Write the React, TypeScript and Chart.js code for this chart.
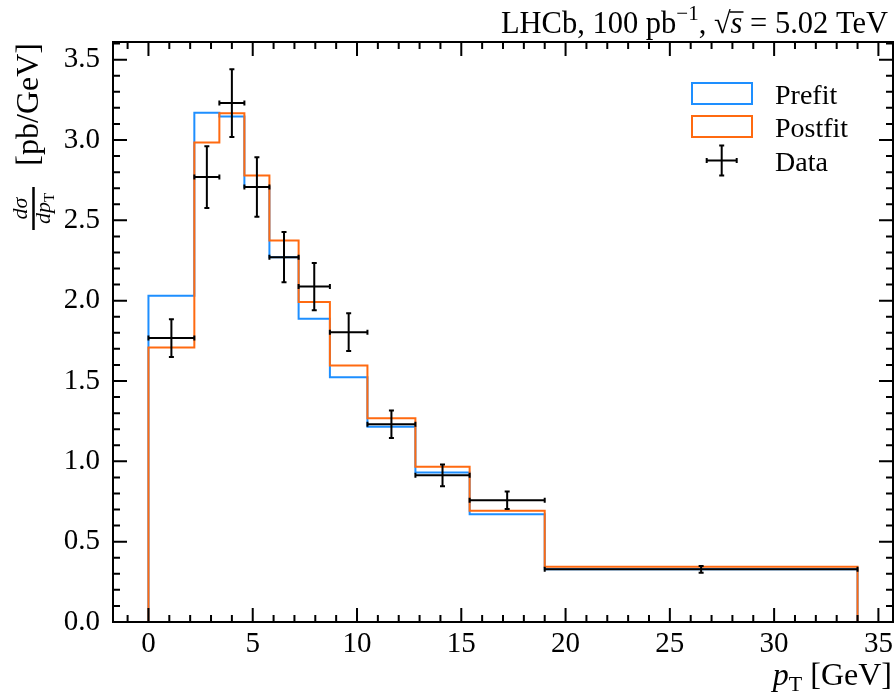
import React, { useEffect, useRef } from "react";
import { Chart, registerables } from "chart.js";

Chart.register(...registerables);

// ---- data ----
const binEdges = [0, 2.2, 3.4, 4.6, 5.8, 7.2, 8.7, 10.5, 12.8, 15.4, 19.0, 34.0];
const prefitValues = [2.03, 3.17, 3.146, 2.707, 2.271, 1.887, 1.524, 1.216, 0.93, 0.67, 0.328];
const postfitValues = [1.708, 2.985, 3.167, 2.779, 2.374, 1.991, 1.596, 1.268, 0.967, 0.693, 0.344];
const dataValues = [1.767, 2.769, 3.23, 2.707, 2.271, 2.088, 1.804, 1.231, 0.913, 0.758, 0.328];
const dataErrors = [0.117, 0.192, 0.211, 0.185, 0.157, 0.147, 0.118, 0.085, 0.068, 0.055, 0.021];
const xTickValues = [0, 5, 10, 15, 20, 25, 30, 35];
const yTickValues = [0, 0.5, 1.0, 1.5, 2.0, 2.5, 3.0, 3.5];
const legendLabels = ["Prefit", "Postfit", "Data"];

const PREFIT_COLOR = "#1e8fff";
const POSTFIT_COLOR = "#ff6a10";
const F = "'Liberation Serif', 'Times New Roman', serif";

function histPoints(vals: number[]) {
  const pts: { x: number; y: number }[] = [{ x: binEdges[0], y: 0 }];
  vals.forEach((v, i) => {
    pts.push({ x: binEdges[i], y: v });
    pts.push({ x: binEdges[i + 1], y: v });
  });
  pts.push({ x: binEdges[binEdges.length - 1], y: 0 });
  return pts;
}

function measurePieces(ctx: CanvasRenderingContext2D, pieces: { t: string; font: string }[]) {
  return pieces.map((p) => {
    ctx.font = p.font;
    return ctx.measureText(p.t).width;
  });
}

function drawPieces(
  ctx: CanvasRenderingContext2D,
  pieces: { t: string; font: string; dy?: number }[],
  endX: number,
  baseline: number
) {
  const widths = measurePieces(ctx, pieces);
  const total = widths.reduce((a, b) => a + b, 0);
  let x = endX - total;
  ctx.textAlign = "left";
  ctx.textBaseline = "alphabetic";
  const starts: number[] = [];
  pieces.forEach((p, i) => {
    ctx.font = p.font;
    starts.push(x);
    ctx.fillText(p.t, x, baseline + (p.dy || 0));
    x += widths[i];
  });
  return { starts, widths };
}

const decorPlugin = {
  id: "decor",
  afterDatasetsDraw(chart: any) {
    const ctx: CanvasRenderingContext2D = chart.ctx;
    const xs = chart.scales.x;
    const ys = chart.scales.y;
    ctx.save();
    ctx.strokeStyle = "#000";
    ctx.lineWidth = 2;
    ctx.lineCap = "butt";
    const cap = 2.5;
    dataValues.forEach((v, i) => {
      const lo = xs.getPixelForValue(binEdges[i]);
      const hi = xs.getPixelForValue(binEdges[i + 1]);
      const cx = xs.getPixelForValue((binEdges[i] + binEdges[i + 1]) / 2);
      const py = ys.getPixelForValue(v);
      const top = ys.getPixelForValue(v + dataErrors[i]);
      const bot = ys.getPixelForValue(v - dataErrors[i]);
      ctx.beginPath();
      ctx.moveTo(lo, py);
      ctx.lineTo(hi, py);
      ctx.moveTo(cx, top);
      ctx.lineTo(cx, bot);
      ctx.moveTo(cx - cap, top);
      ctx.lineTo(cx + cap, top);
      ctx.moveTo(cx - cap, bot);
      ctx.lineTo(cx + cap, bot);
      ctx.moveTo(lo, py - cap);
      ctx.lineTo(lo, py + cap);
      ctx.moveTo(hi, py - cap);
      ctx.lineTo(hi, py + cap);
      ctx.stroke();
    });
    ctx.restore();
  },
  afterDraw(chart: any) {
    const ctx: CanvasRenderingContext2D = chart.ctx;
    const xs = chart.scales.x;
    const ys = chart.scales.y;
    const { left, right, top, bottom } = chart.chartArea;
    ctx.save();
    ctx.strokeStyle = "#000";
    ctx.fillStyle = "#000";
    // frame
    ctx.lineWidth = 2;
    ctx.strokeRect(left, top, right - left, bottom - top);
    // ticks (inward, all four sides)
    ctx.beginPath();
    const maj = 14, mnr = 7;
    for (let k = -1; k <= 35; k++) {
      const px = xs.getPixelForValue(k);
      if (px < left + 1 || px > right - 1) continue;
      const len = k % 5 === 0 ? maj : mnr;
      ctx.moveTo(px, bottom);
      ctx.lineTo(px, bottom - len);
      ctx.moveTo(px, top);
      ctx.lineTo(px, top + len);
    }
    for (let k = 0; k <= 36; k++) {
      const py = ys.getPixelForValue(k / 10);
      if (py < top + 1 || py > bottom - 1) continue;
      const len = k % 5 === 0 ? maj : mnr;
      ctx.moveTo(left, py);
      ctx.lineTo(left + len, py);
      ctx.moveTo(right, py);
      ctx.lineTo(right - len, py);
    }
    ctx.stroke();

    // legend
    ctx.lineWidth = 2;
    ctx.strokeStyle = PREFIT_COLOR;
    ctx.strokeRect(692, 83, 60, 21);
    ctx.strokeStyle = POSTFIT_COLOR;
    ctx.strokeRect(692, 116, 60, 21);
    ctx.strokeStyle = "#000";
    ctx.beginPath();
    const lx = 721.7, ly = 160.5;
    ctx.moveTo(lx - 15, ly);
    ctx.lineTo(lx + 15, ly);
    ctx.moveTo(lx, ly - 15);
    ctx.lineTo(lx, ly + 15);
    ctx.moveTo(lx - 2.5, ly - 15);
    ctx.lineTo(lx + 2.5, ly - 15);
    ctx.moveTo(lx - 2.5, ly + 15);
    ctx.lineTo(lx + 2.5, ly + 15);
    ctx.moveTo(lx - 15, ly - 2.5);
    ctx.lineTo(lx - 15, ly + 2.5);
    ctx.moveTo(lx + 15, ly - 2.5);
    ctx.lineTo(lx + 15, ly + 2.5);
    ctx.stroke();
    ctx.font = `28px ${F}`;
    ctx.textAlign = "left";
    ctx.textBaseline = "alphabetic";
    ctx.fillText(legendLabels[0], 775, 104);
    ctx.fillText(legendLabels[1], 775, 137);
    ctx.fillText(legendLabels[2], 775, 171);

    // title
    const titleSize = 30.5;
    const norm = `${titleSize}px ${F}`;
    const ital = `italic ${titleSize}px ${F}`;
    const pieces = [
      { t: "LHCb, 100 pb", font: norm },
      { t: "\u22121", font: `21px ${F}`, dy: -13 },
      { t: ", ", font: norm },
      { t: "\u221A", font: norm },
      { t: "s", font: ital },
      { t: " = 5.02 TeV", font: norm },
    ];
    const { starts, widths } = drawPieces(ctx, pieces, 888, 33);
    ctx.lineWidth = 1.5;
    ctx.beginPath();
    ctx.moveTo(starts[4] - 1, 33 - 21);
    ctx.lineTo(starts[4] + widths[4] + 1, 33 - 21);
    ctx.stroke();

    // x label
    const labelSize = 32;
    drawPieces(
      ctx,
      [
        { t: "p", font: `italic ${labelSize}px ${F}` },
        { t: "T", font: `22px ${F}`, dy: 6 },
        { t: " [GeV]", font: `${labelSize}px ${F}` },
      ],
      892,
      685
    );

    // y label (rotated)
    ctx.save();
    ctx.rotate(-Math.PI / 2);
    ctx.font = `${labelSize}px ${F}`;
    ctx.textAlign = "right";
    ctx.textBaseline = "alphabetic";
    ctx.fillText("[pb/GeV]", -43, 38);
    const fc = -208.5;
    ctx.font = `italic 22px ${F}`;
    ctx.textAlign = "center";
    ctx.fillText("d\u03C3", fc, 27);
    ctx.lineWidth = 2.5;
    ctx.beginPath();
    ctx.moveTo(fc - 21.5, 33.5);
    ctx.lineTo(fc + 21.5, 33.5);
    ctx.stroke();
    ctx.font = `italic 22px ${F}`;
    const wdp = ctx.measureText("dp").width;
    ctx.font = `15px ${F}`;
    const wT = ctx.measureText("T").width;
    const start = fc - (wdp + wT) / 2;
    ctx.textAlign = "left";
    ctx.font = `italic 22px ${F}`;
    ctx.fillText("dp", start, 50);
    ctx.font = `15px ${F}`;
    ctx.fillText("T", start + wdp, 54);
    ctx.restore();

    ctx.restore();
  },
};

export default function App() {
  const ref = useRef<HTMLCanvasElement | null>(null);
  useEffect(() => {
    document.body.style.margin = "0";
    const canvas = ref.current!;
    const chart = new Chart(canvas, {
      type: "line",
      data: {
        datasets: [
          {
            label: "Prefit",
            data: histPoints(prefitValues),
            borderColor: PREFIT_COLOR,
            borderWidth: 2,
            pointRadius: 0,
            fill: false,
            tension: 0,
            borderJoinStyle: "miter",
            order: 2,
          },
          {
            label: "Postfit",
            data: histPoints(postfitValues),
            borderColor: POSTFIT_COLOR,
            borderWidth: 2,
            pointRadius: 0,
            fill: false,
            tension: 0,
            borderJoinStyle: "miter",
            order: 1,
          },
        ],
      },
      options: {
        responsive: false,
        animation: false,
        devicePixelRatio: 1,
        layout: { padding: { top: 42, right: 2, left: 0, bottom: 0 } },
        plugins: { legend: { display: false }, tooltip: { enabled: false }, title: { display: false } },
        scales: {
          x: {
            type: "linear",
            min: -1.7,
            max: 35.7,
            grid: { display: false, drawTicks: false },
            border: { display: false },
            afterBuildTicks: (s: any) => {
              s.ticks = xTickValues.map((value) => ({ value }));
            },
            afterFit: (s: any) => {
              s.height = 73;
              s.paddingLeft = 0;
              s.paddingRight = 0;
            },
            ticks: {
              color: "#000",
              font: { family: F, size: 29 },
              padding: 5,
              maxRotation: 0,
              autoSkip: false,
              callback: (v: any) => String(v),
            },
          },
          y: {
            type: "linear",
            min: 0,
            max: 3.61,
            grid: { display: false, drawTicks: false },
            border: { display: false },
            afterBuildTicks: (s: any) => {
              s.ticks = yTickValues.map((value) => ({ value }));
            },
            afterFit: (s: any) => {
              s.width = 113;
              s.paddingTop = 0;
              s.paddingBottom = 0;
            },
            ticks: {
              color: "#000",
              font: { family: F, size: 29 },
              padding: 13,
              autoSkip: false,
              callback: (v: any) => Number(v).toFixed(1),
            },
          },
        },
      },
      plugins: [decorPlugin],
    } as any);
    return () => chart.destroy();
  }, []);
  return (
    <div style={{ position: "absolute", left: 0, top: 0, width: 895, height: 695, background: "#fff" }}>
      <canvas ref={ref} width={895} height={695} style={{ display: "block" }} />
    </div>
  );
}
